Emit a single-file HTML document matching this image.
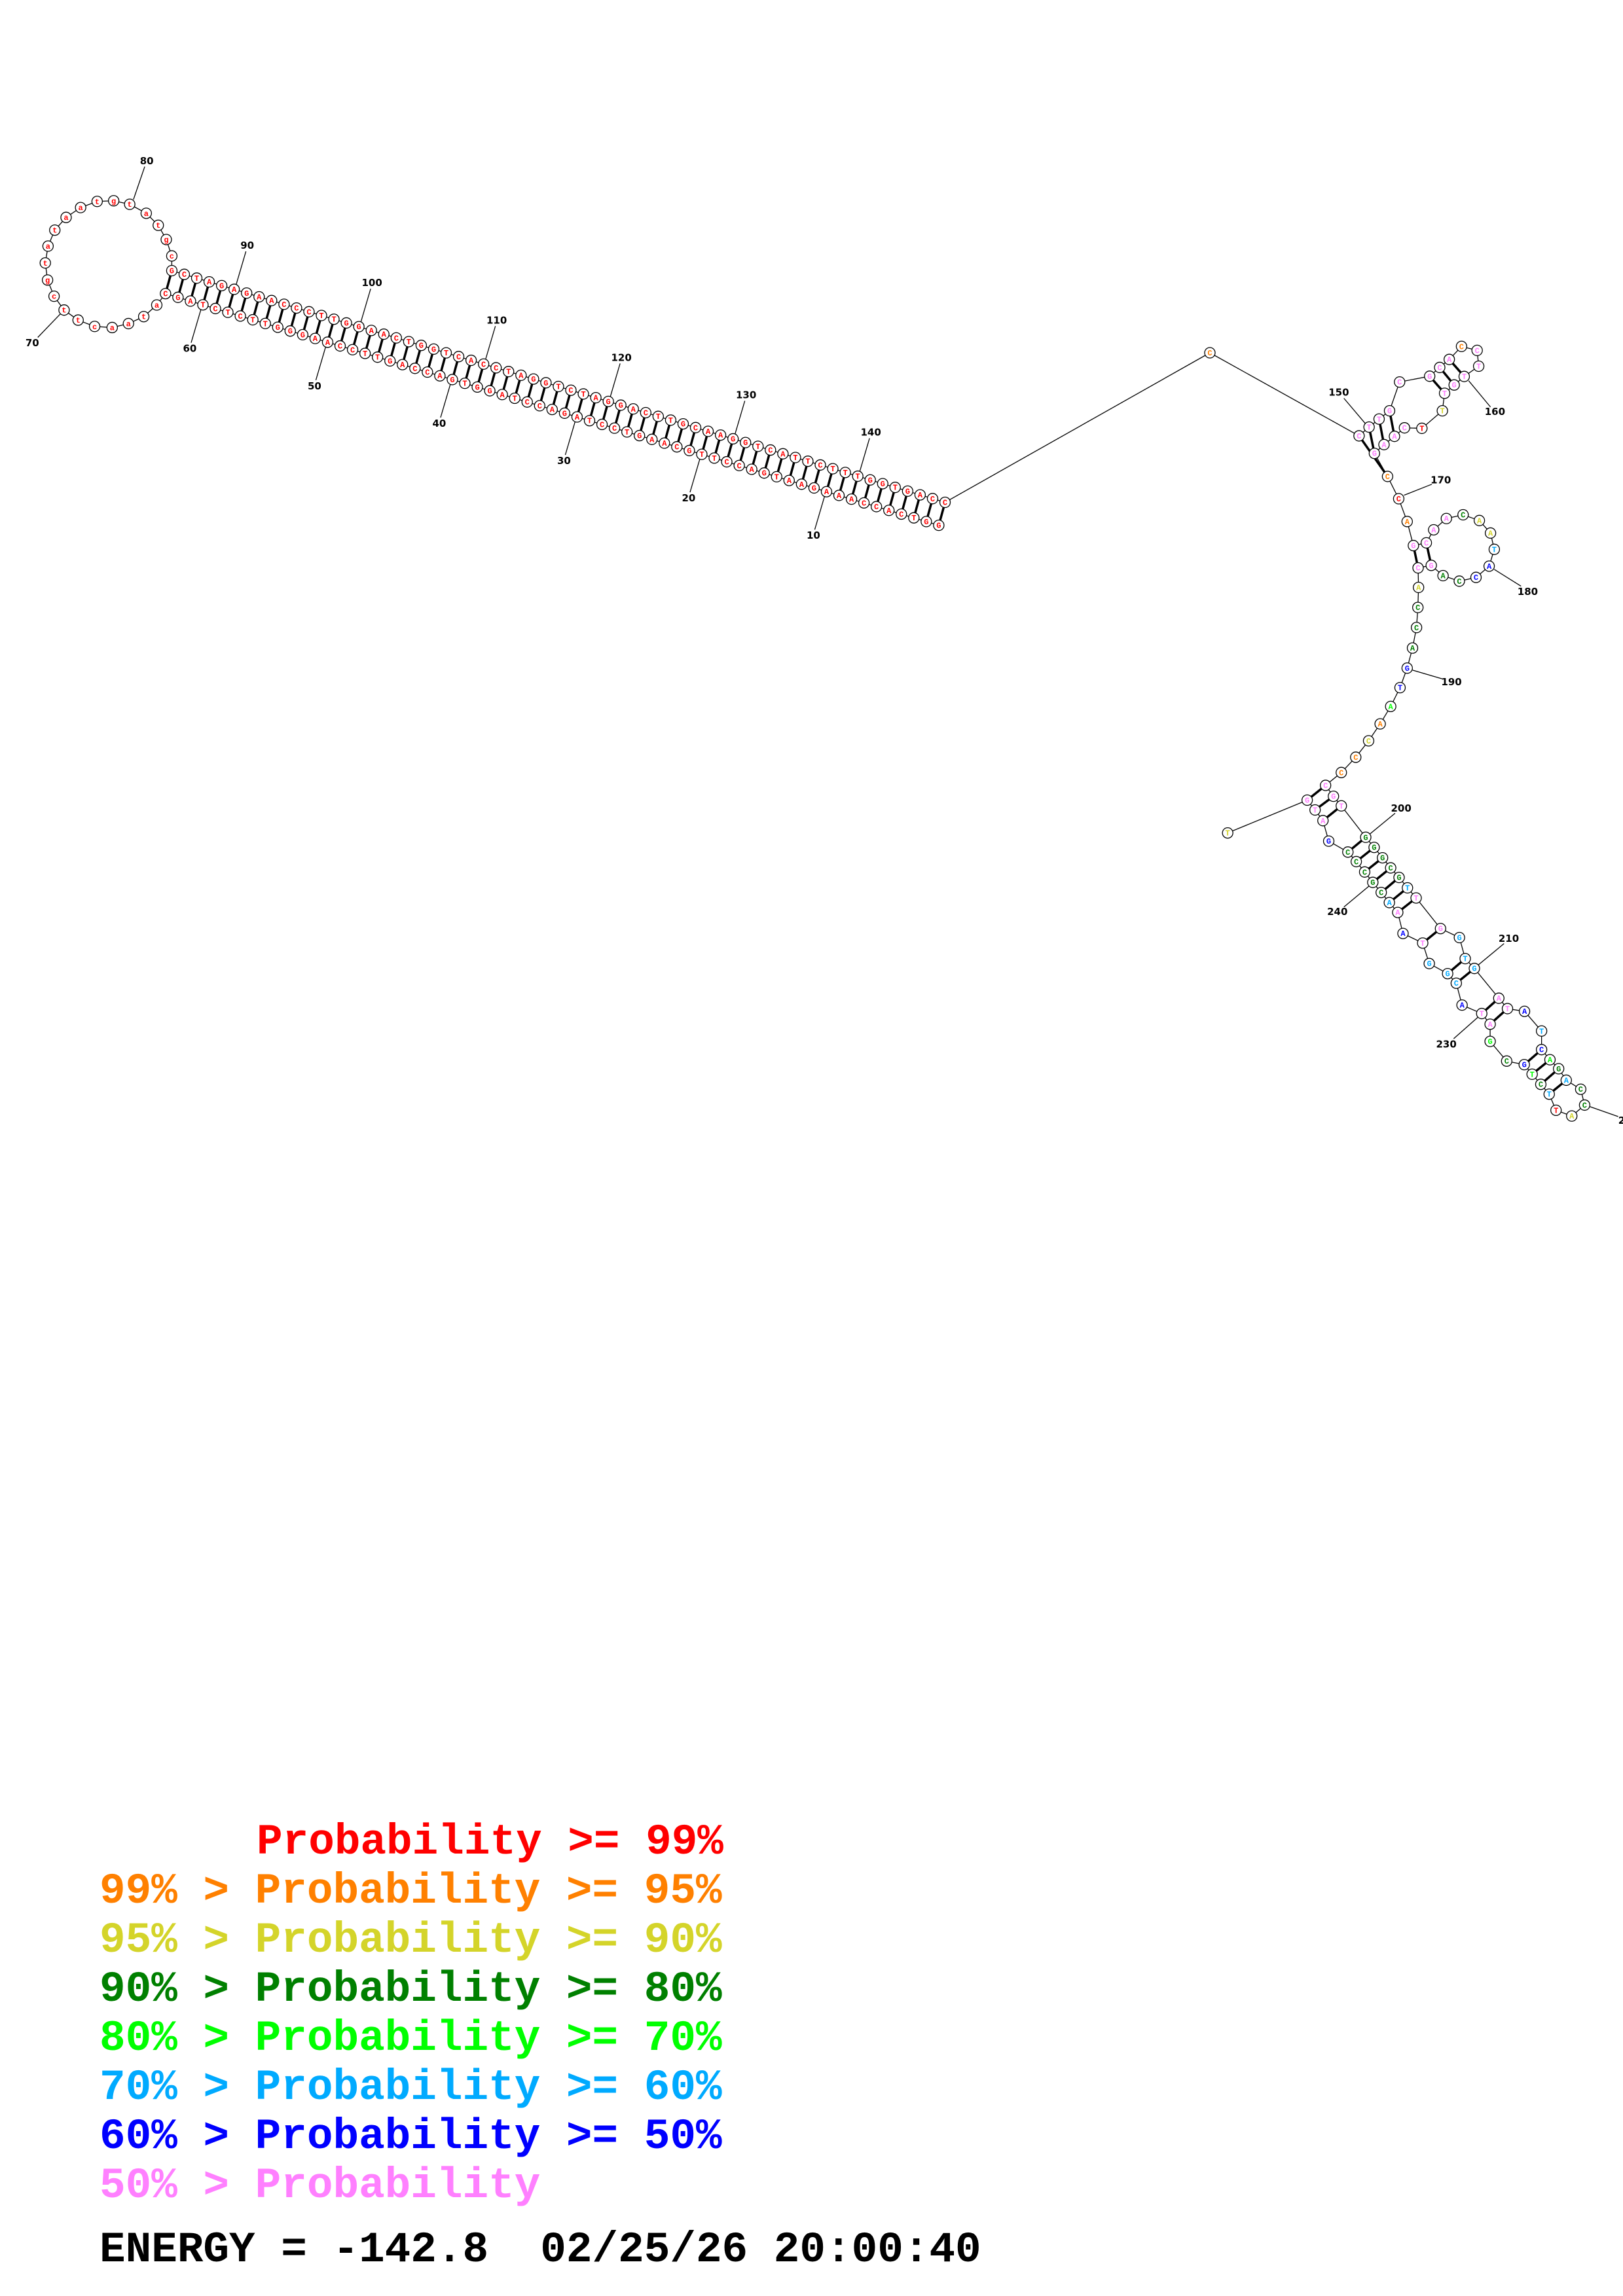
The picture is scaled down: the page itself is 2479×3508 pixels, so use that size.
<!DOCTYPE html>
<html><head><meta charset="utf-8">
<style>
html,body{margin:0;padding:0;background:#fff;}
body{width:2479px;height:3508px;position:relative;overflow:hidden;}
svg{position:absolute;left:0;top:0;}
.lg{font-family:"Liberation Mono","DejaVu Sans Mono",monospace;font-weight:bold;font-size:66px;white-space:pre;}
</style></head>
<body>
<svg id="s" width="2479" height="3508" viewBox="0 0 2479 3508" xmlns="http://www.w3.org/2000/svg">
<g id="bb" stroke="#000" stroke-width="1.3" fill="none"></g>
<g id="pr" stroke="#000" stroke-width="3.5" fill="none"></g>
<g id="tk" stroke="#000" stroke-width="1.3" fill="none"></g>
<g id="nd"></g>
<g id="lb" font-family="'DejaVu Sans','Liberation Sans',sans-serif" font-weight="bold" font-size="15" text-anchor="middle" fill="#000"></g>
<text class="lg" x="392" y="2832" fill="#ff0000">Probability &gt;= 99%</text>
<text class="lg" x="152" y="2907" fill="#ff8000">99% &gt; Probability &gt;= 95%</text>
<text class="lg" x="152" y="2982" fill="#d4d42a">95% &gt; Probability &gt;= 90%</text>
<text class="lg" x="152" y="3057" fill="#008000">90% &gt; Probability &gt;= 80%</text>
<text class="lg" x="152" y="3132" fill="#00ff00">80% &gt; Probability &gt;= 70%</text>
<text class="lg" x="152" y="3207" fill="#00aaff">70% &gt; Probability &gt;= 60%</text>
<text class="lg" x="152" y="3282" fill="#0000ff">60% &gt; Probability &gt;= 50%</text>
<text class="lg" x="152" y="3357" fill="#ff80ff">50% &gt; Probability</text>
<text class="lg" x="152" y="3455" fill="#000">ENERGY = -142.8  02/25/26 20:00:40</text>
</svg>
<script>
(function(){
var NS="http://www.w3.org/2000/svg";
var COL={r:'#ff0000',o:'#ff8000',y:'#d4d42a',g:'#008000',l:'#00ff00',s:'#00aaff',b:'#0000ff',p:'#ff80ff'};
var N={};
function z1(x,y){return [-1.6+0.3826*x,199.4+0.3345*y];}
function z3(x,y){return [1947.2+0.3403*x,499.4+0.3828*y];}
function z4(x,y){return [1848.3+0.4009*x,1098.5+0.4175*y];}
function add(p,xy,ch,c){N[p]={x:xy[0],y:xy[1],ch:ch,c:COL[c]};}
// main stem
var topSeq="GCTAGAGAACCCTTGGAACTGGTCACCTAGGTCTAGGACTTGCAAGGTCATTCTTTGGTGACC";
var comp={A:'T',T:'A',G:'C',C:'G'};
var botSeq="CGATCTCTTGGGAACCTTGACCAGTGGATCCAGATCCTGAACGTTCCAGTAAGAAACCACTGG";
for(var i=0;i<63;i++){
 var tx=262.4+19.05*i, ty=413.5+5.71*i;
 add(85+i,[tx,ty],topSeq[i]||'A','r');
 add(63-i,[tx-9.6,ty+35.1],botSeq[i]||comp[topSeq[i]]||'A','r');
}
var loop=[[630,797,'a'],[578,850,'t'],[517,882,'a'],[452,900,'a'],[382,895,'c'],[316,866,'t'],[260,820,'t'],[220,757,'c'],[194,683,'g'],[185,605,'t'],[196,528,'a'],[223,455,'t'],[268,397,'a'],[326,352,'a'],[392,324,'t'],[458,321,'g'],[522,337,'t'],[588,378,'a'],[636,433,'t'],[668,498,'g'],[690,573,'c']];
loop.forEach(function(v,k){add(64+k,z1(v[0],v[1]),v[2],'r');});
add(148,[1848,539],'C','o');
var r3=[[378,435,'C','p'],[423,400,'T','p'],[468,368,'T','p'],[515,335,'G','p'],[560,220,'C','p'],[695,197,'G','p'],[740,162,'C','p'],[783,130,'A','p'],[838,78,'C','o'],[908,94,'C','p'],[915,157,'T','p'],[850,198,'T','p'],[805,232,'G','p'],[762,265,'T','p'],[752,335,'T','y'],[660,405,'T','r'],[582,403,'C','p'],[537,437,'A','p'],[490,470,'A','p'],[447,505,'G','p'],[506,597,'C','o'],[556,686,'C','r'],[594,777,'A','o'],[622,873,'G','p'],[680,862,'C','p'],[713,810,'A','p'],[770,765,'A','p'],[845,750,'C','g'],[918,773,'A','y'],[968,823,'A','y'],[985,888,'T','s'],[962,955,'A','b'],[903,1000,'C','b'],[828,1015,'C','g'],[755,993,'A','g'],[702,952,'G','p'],[643,962,'C','p'],[645,1040,'A','y'],[642,1120,'C','g'],[636,1200,'C','g'],[618,1282,'A','g'],[594,1362,'G','b'],[562,1440,'T','b'],[520,1515,'A','l']];
r3.forEach(function(v,k){add(149+k,z3(v[0],v[1]),v[2],v[3]);});
var r4=[[648,18,'A','o'],[604,80,'C','y'],[555,140,'C','o'],[500,196,'C','o'],[440,243,'C','p'],[470,283,'G','p'],[500,318,'T','p'],[593,433,'G','g'],[625,470,'G','g'],[657,508,'G','g'],[688,545,'C','g'],[720,580,'G','g'],[752,618,'T','s'],[785,655,'T','p'],[878,767,'G','p'],[950,800,'G','s'],[972,877,'T','s'],[1007,913,'G','s'],[1100,1022,'A','p'],[1133,1060,'T','p'],[1198,1070,'A','b'],[1263,1142,'T','s'],[1263,1210,'C','b'],[1295,1247,'A','l'],[1328,1280,'G','g'],[1357,1322,'A','s'],[1412,1355,'C','g'],[1427,1413,'C','g'],[1378,1453,'A','y'],[1318,1432,'T','r'],[1292,1373,'T','s'],[1260,1337,'C','g'],[1227,1300,'T','l'],[1197,1265,'G','b'],[1130,1252,'C','g'],[1067,1180,'G','l'],[1067,1117,'A','p'],[1035,1078,'T','p'],[960,1047,'A','b'],[938,967,'C','s'],[905,932,'G','s'],[835,895,'G','s'],[810,820,'T','p'],[735,785,'A','b'],[715,708,'A','p'],[683,672,'A','s'],[652,635,'C','g'],[620,598,'G','g'],[589,560,'C','g'],[557,522,'C','g'],[525,487,'C','g'],[452,447,'G','b'],[430,372,'A','p'],[400,333,'T','p'],[370,297,'G','p'],[67,417,'T','y']];
r4.forEach(function(v,k){add(193+k,z4(v[0],v[1]),v[2],v[3]);});
var bb=document.getElementById('bb'),pr=document.getElementById('pr'),nd=document.getElementById('nd'),tk=document.getElementById('tk'),lb=document.getElementById('lb');
function line(g,a,b,c,d){var l=document.createElementNS(NS,'line');l.setAttribute('x1',a);l.setAttribute('y1',b);l.setAttribute('x2',c);l.setAttribute('y2',d);g.appendChild(l);}
for(var p=1;p<248;p++){if(N[p]&&N[p+1]&&p!==0)line(bb,N[p].x,N[p].y,N[p+1].x,N[p+1].y);}
var pairs=[];
for(i=0;i<63;i++)pairs.push([85+i,63-i]);
pairs=pairs.concat([[149,169],[150,168],[151,167],[152,166],[154,162],[155,161],[156,160],[172,185],[173,184],[197,247],[198,246],[199,245],[200,243],[201,242],[202,241],[203,240],[204,239],[205,238],[206,237],[207,235],[209,233],[210,232],[211,230],[212,229],[215,226],[216,225],[217,224],[218,223]]);
pairs.forEach(function(q){var a=N[q[0]],b=N[q[1]];if(a&&b)line(pr,a.x,a.y,b.x,b.y);});
for(p in N){var n=N[p];
 var c=document.createElementNS(NS,'circle');c.setAttribute('cx',n.x);c.setAttribute('cy',n.y);c.setAttribute('r',8);c.setAttribute('fill','#fff');c.setAttribute('stroke','#000');c.setAttribute('stroke-width','1.3');nd.appendChild(c);
 var t=document.createElementNS(NS,'text');t.setAttribute('x',n.x);t.setAttribute('y',n.y+4);t.setAttribute('text-anchor','middle');t.setAttribute('font-family','Liberation Mono,monospace');t.setAttribute('font-weight','bold');t.setAttribute('font-size','12');t.setAttribute('fill',n.c);t.textContent=n.ch;nd.appendChild(t);}
function lab(txt,x,y,x1,y1,x2,y2,anchor){line(tk,x1,y1,x2,y2);var t=document.createElementNS(NS,'text');t.setAttribute('x',x);t.setAttribute('y',y+5);if(anchor)t.setAttribute('text-anchor',anchor);t.textContent=txt;lb.appendChild(t);}
// stem labels
[[90,5],[100,15],[110,25],[120,35],[130,45],[140,55]].forEach(function(v){var n=N[v[0]];lab(String(v[0]),n.x+20,n.y-67,n.x+3,n.y-7,n.x+18,n.y-58);});
[[10,53],[20,43],[30,33],[40,23],[50,13],[60,3]].forEach(function(v){var n=N[v[0]];lab(String(v[0]),n.x-20,n.y+67,n.x-3,n.y+7,n.x-18,n.y+58);});
var a,b,c2;
function L3(t,lx,ly,x1,y1,x2,y2){a=z3(lx,ly);b=z3(x1,y1);c2=z3(x2,y2);lab(t,a[0],a[1],b[0],b[1],c2[0],c2[1]);}
function L4(t,lx,ly,x1,y1,x2,y2,an){a=z4(lx,ly);b=z4(x1,y1);c2=z4(x2,y2);lab(t,a[0],a[1],b[0],b[1],c2[0],c2[1],an);}
L3('150',287,262,310,285,410,390);
L3('160',988,338,870,215,968,320);
L3('170',745,612,580,672,705,628);
L3('180',1135,1057,985,968,1105,1035);
L3('190',793,1417,618,1370,752,1405);
L4('200',728,327,610,420,705,345);
L4('240',485,705,510,688,605,612);
L4('210',1138,803,1022,900,1120,822);
L4('230',900,1190,928,1170,1020,1092);
L4('220',1555,1470,1445,1418,1555,1455,'start');
var n=N[64];a=z1(133,970);b=z1(155,945);c2=z1(245,838);lab('70',a[0],a[1],b[0],b[1],c2[0],c2[1]);
a=z1(590,140);b=z1(582,165);c2=z1(537,315);lab('80',a[0],a[1],b[0],b[1],c2[0],c2[1]);
})();
</script>
</body></html>
